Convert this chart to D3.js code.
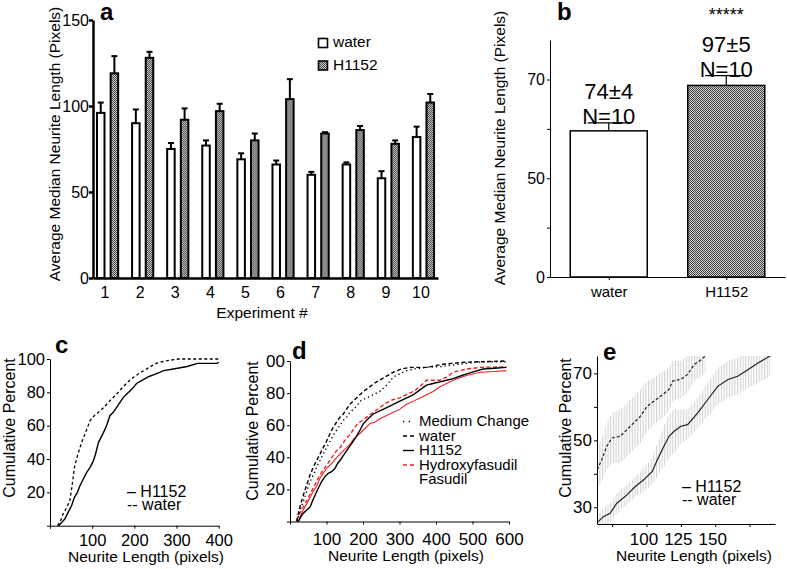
<!DOCTYPE html>
<html><head><meta charset="utf-8">
<script src="https://cdn.jsdelivr.net/npm/d3@7"></script>
<style>body{margin:0;background:#fff} svg{display:block}</style>
</head><body><svg id="fig" width="787" height="569"></svg>
<script>
const FONT = '"Liberation Sans", Arial, Helvetica, sans-serif';

// ---------------- DATA ----------------
// panel a
const experiments = ["1","2","3","4","5","6","7","8","9","10"];
const treatments = ["water","H1152"];
const waterMeans = [96, 90, 75, 77, 69, 66, 60, 66, 58, 82];
const waterErr   = [6, 8, 3.5, 3, 3.5, 2.3, 1.7, 1.2, 4.1, 6];
const h1152Means = [119, 128, 92, 97, 80, 104, 84, 86, 78, 102];
const h1152Err   = [10, 3.5, 6.6, 4.3, 4, 11.6, 0.8, 2.4, 2, 5];
const aTicks = [0, 50, 100, 150];

// panel b
const summaryGroups = ["water","H1152"];
const summaryMeans = [74, 97];
const summaryErr = [4, 5];
const summaryN = [10, 10];
const bTickValues = [0, 25, 50, 75, 100];
const bTickLabels = ["0", "", "50", "", "70"];
const bSignificance = "*****";

// panel c (cumulative %, neurite length)
const cTicksX = [0, 100, 200, 300, 400];
const cTicksY = [0, 20, 40, 60, 80, 100];
const cH1152 = [[20,0],[28,2],[35,4],[43,8],[51,12],[58,17],[65,20],[71,24],[79,28],[87,32],[95,35],[103,39],[108,43],[115,50],[121,53],[127,56],[134,60],[142,66],[150,68],[158,71],[166,74],[174,77],[182,79],[190,81],[198,83],[206,85.5],[220,87.5],[235,89.5],[245,90.5],[260,92],[269,93],[293,94],[325,95.5],[350,97.4],[396,97.4],[400,98]];
const cWater = [[18,0],[25,3],[31,7],[40,11],[47,15],[53,25],[58,35],[65,42],[75,50],[83,55],[95,63],[105,66],[115,68],[128,71],[142,75],[158,79],[174,83.5],[186,86.5],[198,89],[212,91.5],[229,94],[242,96],[253,97.5],[268,98.5],[285,99.3],[305,100],[400,100]];

// panel d
const dTicksX = [0, 100, 200, 300, 400, 500, 600];
const dTicksY = [0, 20, 40, 60, 80, 100];
const dTickLabelsY = ["", "20", "40", "60", "80", "00"];
const dMedium = [[20,0],[27,7],[36,12],[46,19],[55,25],[64,29],[73,34],[82,38],[91,42],[100,46],[110,50],[119,54],[128,57],[137,60],[146,63],[155,65],[164,68],[174,70],[183,72],[192,75],[210,77],[228,79],[246,81],[265,85],[283,90],[301,92],[319,94],[338,95],[356,95.5],[374,96],[411,96.5],[447,97.5],[465,98],[500,99],[530,99.5],[593,99.5]];
const dWater = [[18,0],[22,4],[27,9],[36,16],[46,23],[55,29],[64,34],[73,38],[82,42],[91,46],[100,50],[110,55],[119,59],[128,62],[137,65],[146,67],[155,70],[164,73],[173,75],[187,78],[201,81],[219,84],[237,87],[260,90],[283,93],[305,95],[328,96],[351,96],[374,96],[397,97],[420,98],[443,98.5],[465,99],[488,99.3],[511,99.5],[550,99.7],[593,100]];
const dH1152 = [[23,0],[30,3],[36,5],[45,7],[55,9],[62,13],[68,16],[78,21],[87,25],[96,28],[105,30],[114,31],[123,33],[130,36],[137,38],[146,41],[155,44],[164,47],[173,50],[182,53],[192,57],[201,61],[214,64],[228,67],[246,69],[265,71],[283,73],[301,75],[320,77],[338,79],[356,82],[374,85],[392,86],[411,87],[429,88],[447,89],[465,90.5],[484,92],[506,93.5],[529,95],[560,95.5],[593,96]];
const dHydroxy = [[18,0.6],[27,5],[36,9],[46,13],[55,17],[64,21],[73,25],[82,29],[91,32],[100,35],[109,38],[118,41],[127,44],[137,46],[146,49],[155,52],[164,54],[173,57],[182,60],[192,62],[210,65],[228,68],[246,71],[265,74],[283,76],[301,77],[319,79],[338,81],[356,84],[374,88],[392,88],[411,88],[429,90],[447,93],[465,94],[484,95],[502,95.5],[520,96],[593,96.4]];
const dFasudil = [[23,0],[30,4],[36,7],[46,11],[55,15],[64,19],[73,22],[82,27],[91,30],[100,33],[109,35],[118,37],[128,40],[137,42],[146,44],[155,46],[164,48],[173,51],[182,53],[192,55],[201,57],[210,59],[219,61],[233,62],[246,64],[265,66],[283,68],[301,70],[319,73],[338,75],[356,77],[374,79],[392,81],[411,84],[429,86],[447,88],[465,89.5],[484,91],[502,92],[520,93],[560,93.5],[593,94]];
const dLegendNames = ["Medium Change","water","H1152","Hydroxyfasudil","Fasudil"];

// panel e
const eTicksX = [75, 100, 125, 150, 175];
const eTickLabelsX = ["", "100", "125", "150", ""];
const eTicksY = [30, 40, 50, 60, 70];
const eTickLabelsY = ["30", "", "50", "", "70"];
const eWaterX   = [64.2, 67.4, 71.1, 74.8, 80.9, 85.8, 90.7, 95.6, 100.5, 105.4, 110.3, 116.4, 118.9, 125, 129.9, 134.8, 138.5, 142.9];
const eWaterY   = [41.2, 44.2, 48.2, 50.7, 51.2, 53.2, 55.2, 57.2, 60.2, 61.7, 63.2, 65.2, 67.7, 68.2, 69.7, 72.7, 73.7, 75.2];
const eWaterErr = [6, 6.5, 7, 7.5, 8, 8, 8, 8, 7.5, 7, 7, 6.5, 6, 5.5, 5.5, 5, 5, 5];
const eH1152X   = [64.2, 68.6, 73.5, 78.4, 85.8, 91.9, 98, 104.2, 107.9, 112.7, 116.4, 120.1, 125, 129.9, 137.3, 144.6, 152, 159.4, 166.7, 174, 181.4, 190];
const eH1152Y   = [25.4, 27.2, 28.2, 31.2, 33.7, 36.2, 38.2, 40.7, 44.2, 48.2, 51.2, 52.7, 54.2, 54.7, 58.2, 62.2, 66.2, 68.2, 69.2, 71.2, 73.2, 75.2];
const eH1152Err = [2, 2.5, 3, 3, 3, 3, 3.5, 4, 5, 6, 6.5, 6.5, 5, 4.5, 4.5, 5, 5.5, 5.5, 5.5, 5.5, 6, 6];

// ---------------- DRAW ----------------
const svg = d3.select("#fig");
const defs = svg.append("defs");
const pat = defs.append("pattern").attr("id","checker").attr("width",2).attr("height",2).attr("patternUnits","userSpaceOnUse");
pat.append("rect").attr("width",2).attr("height",2).attr("fill","#d2d2d2");
pat.append("rect").attr("width",1).attr("height",1).attr("fill","#404040");
pat.append("rect").attr("x",1).attr("y",1).attr("width",1).attr("height",1).attr("fill","#404040");
const vpat = defs.append("pattern").attr("id","vlines").attr("width",2.7).attr("height",10).attr("patternUnits","userSpaceOnUse");
vpat.append("line").attr("x1",0.6).attr("x2",0.6).attr("y1",0).attr("y2",10).attr("stroke","#cdcdcd").attr("stroke-width",1);

function styleAxis(g, fs, sw) {
  g.attr("font-family", FONT).attr("font-size", fs);
  g.selectAll("text").attr("fill","#000").attr("font-family", FONT).attr("font-size", fs);
  g.select(".domain").attr("stroke","#000").attr("stroke-width", sw);
  g.selectAll(".tick line").attr("stroke","#000").attr("stroke-width", sw);
}
function txt(x, y, s, fs, opts = {}) {
  const t = svg.append("text").attr("x", x).attr("y", y).text(s)
    .attr("font-family", FONT).attr("font-size", fs).attr("fill", opts.fill || "#000")
    .attr("text-anchor", opts.anchor || "start");
  if (opts.bold) t.attr("font-weight", "bold");
  if (opts.rotate) t.attr("transform", `rotate(-90,${x},${y})`).attr("text-anchor","middle");
  return t;
}

// ===== Panel a =====
const xA = d3.scaleBand().domain(experiments).range([93, 438]).paddingInner(0.34).paddingOuter(0.085);
const xAsub = d3.scaleBand().domain(treatments).range([1, xA.bandwidth() - 1]).paddingInner(0.45);
const yA = d3.scaleLinear().domain([0, 150]).range([278, 20]);
const rowsA = experiments.map((e, i) => ({
  exp: e,
  vals: [{t: "water", v: waterMeans[i], e: waterErr[i]}, {t: "H1152", v: h1152Means[i], e: h1152Err[i]}]
}));
const gA = svg.append("g");
const grp = gA.selectAll("g.grp").data(rowsA).join("g").attr("transform", d => `translate(${xA(d.exp)},0)`);
grp.selectAll("line.err").data(d => d.vals).join("line")
  .attr("x1", d => xAsub(d.t) + xAsub.bandwidth()/2).attr("x2", d => xAsub(d.t) + xAsub.bandwidth()/2)
  .attr("y1", d => yA(d.v)).attr("y2", d => yA(d.v + d.e)).attr("stroke","#000").attr("stroke-width",2);
grp.selectAll("line.cap").data(d => d.vals).join("line")
  .attr("x1", d => xAsub(d.t) + xAsub.bandwidth()/2 - 3).attr("x2", d => xAsub(d.t) + xAsub.bandwidth()/2 + 3)
  .attr("y1", d => yA(d.v + d.e)).attr("y2", d => yA(d.v + d.e)).attr("stroke","#000").attr("stroke-width",2);
grp.selectAll("rect").data(d => d.vals).join("rect")
  .attr("x", d => xAsub(d.t)).attr("width", xAsub.bandwidth())
  .attr("y", d => yA(d.v)).attr("height", d => yA(0) - yA(d.v))
  .attr("fill", d => d.t === "water" ? "#fff" : "url(#checker)")
  .attr("stroke","#000").attr("stroke-width",2);

const axA_y = svg.append("g").attr("transform","translate(93,0)")
  .call(d3.axisLeft(yA).tickValues(aTicks).tickSize(4).tickSizeOuter(0).tickPadding(0));
styleAxis(axA_y, 16, 2.5);
const axA_x = svg.append("g").attr("transform","translate(0,278)")
  .call(d3.axisBottom(xA).tickSize(0).tickSizeOuter(0).tickPadding(9));
styleAxis(axA_x, 16, 2.5);
axA_x.selectAll("text").attr("dx", -2.5);
txt(262, 318, "Experiment #", 15.5, {anchor: "middle"});
txt(60, 144, "Average Median Neurite Length (Pixels)", 15.5, {rotate: true});
txt(100, 20, "a", 24, {bold: true});
// legend a
const legA = svg.append("g");
treatments.forEach((t, i) => {
  legA.append("rect").attr("x", 318.5).attr("y", 38.5 + i*22.5).attr("width", 9).attr("height", 9)
    .attr("fill", t === "water" ? "#fff" : "url(#checker)").attr("stroke","#000").attr("stroke-width",1.6);
  txt(333, 47 + i*23, t, 15.5);
});

// ===== Panel b =====
const xB = d3.scalePoint().domain(summaryGroups).range([550, 785]).padding(0.5);
const yB = d3.scaleLinear().domain([0, 120]).range([277, 40]);
const rowsB = summaryGroups.map((g, i) => ({g, v: summaryMeans[i], e: summaryErr[i], n: summaryN[i]}));
const gB = svg.append("g");
gB.selectAll("line.err").data(rowsB).join("line")
  .attr("x1", d => xB(d.g)).attr("x2", d => xB(d.g)).attr("y1", d => yB(d.v)).attr("y2", d => yB(d.v + d.e))
  .attr("stroke","#000").attr("stroke-width",1.2);
gB.selectAll("line.cap").data(rowsB).join("line")
  .attr("x1", d => xB(d.g) - 21).attr("x2", d => xB(d.g) + 21).attr("y1", d => yB(d.v + d.e)).attr("y2", d => yB(d.v + d.e))
  .attr("stroke","#000").attr("stroke-width",1.2);
gB.selectAll("rect").data(rowsB).join("rect")
  .attr("x", d => xB(d.g) - 38.5).attr("width", 77)
  .attr("y", d => yB(d.v)).attr("height", d => yB(0) - yB(d.v))
  .attr("fill", d => d.g === "water" ? "#fff" : "url(#checker)").attr("stroke","#000").attr("stroke-width",1.5);
rowsB.forEach(d => {
  txt(xB(d.g), yB(d.v + d.e) + 1, "N=" + d.n, 22, {anchor: "middle"});
  txt(xB(d.g), yB(d.v + d.e) - 24, d.v + "\u00B1" + d.e, 22, {anchor: "middle"});
});
txt(xB("H1152"), 21, bSignificance, 18, {anchor: "middle"});
const axB_y = svg.append("g").attr("transform","translate(550,0)")
  .call(d3.axisLeft(yB).tickValues(bTickValues).tickFormat((d, i) => bTickLabels[i]).tickSize(3).tickSizeOuter(0).tickPadding(2));
styleAxis(axB_y, 16, 1);
const axB_x = svg.append("g").attr("transform","translate(0,277)")
  .call(d3.axisBottom(xB).tickSize(3).tickSizeOuter(0).tickPadding(6));
styleAxis(axB_x, 15, 1);
txt(505, 148, "Average Median Neurite Length (Pixels)", 15.5, {rotate: true});
txt(557, 20, "b", 24, {bold: true});

// ===== Panel c =====
const xC = d3.scaleLinear().domain([0, 400]).range([50, 218.7]);
const yC = d3.scaleLinear().domain([0, 100]).range([525.7, 359]);
const lineC = d3.line().x(d => xC(d[0])).y(d => yC(d[1]));
svg.append("path").attr("d", lineC(cWater)).attr("fill","none").attr("stroke","#000").attr("stroke-width",1.3).attr("stroke-dasharray","3,2.5");
svg.append("path").attr("d", lineC(cH1152)).attr("fill","none").attr("stroke","#000").attr("stroke-width",1.4);
const axC_y = svg.append("g").attr("transform","translate(50,0)")
  .call(d3.axisLeft(yC).tickValues(cTicksY).tickFormat(d => d === 0 ? "" : d).tickSize(3).tickSizeOuter(0).tickPadding(2));
styleAxis(axC_y, 16.5, 1);
const axC_x = svg.append("g").attr("transform","translate(0,525.7)")
  .call(d3.axisBottom(xC).tickValues(cTicksX).tickFormat(d => d === 0 ? "" : d).tickSize(3).tickSizeOuter(0).tickPadding(6));
styleAxis(axC_x, 16.5, 1);
txt(146, 562, "Neurite Length (pixels)", 15.5, {anchor: "middle"});
txt(15, 428, "Cumulative Percent", 16, {rotate: true});
txt(55, 353, "c", 24, {bold: true});
txt(127, 496.5, "\u2013 H1152", 16);
txt(127, 509.5, "-- water", 16);

// ===== Panel d =====
const xD = d3.scaleLinear().domain([0, 600]).range([290, 509]);
const yD = d3.scaleLinear().domain([0, 100]).range([521.5, 361]);
const lineD = d3.line().x(d => xD(d[0])).y(d => yD(d[1]));
const dSeries = [
  {name: dLegendNames[0], data: dMedium, color: "#000", dash: "1.3,3", w: 1.4, sample: true},
  {name: dLegendNames[1], data: dWater, color: "#000", dash: "4,2.5", w: 1.4, sample: true},
  {name: dLegendNames[2], data: dH1152, color: "#000", dash: null, w: 1.4, sample: true},
  {name: dLegendNames[3], data: dHydroxy, color: "#f02020", dash: "4,2.5", w: 1.4, sample: true},
  {name: dLegendNames[4], data: dFasudil, color: "#f02020", dash: null, w: 1.1, sample: false}
];
[4, 3, 0, 1, 2].forEach(i => {
  const s = dSeries[i];
  const p = svg.append("path").attr("d", lineD(s.data)).attr("fill","none").attr("stroke", s.color).attr("stroke-width", s.w);
  if (s.dash) p.attr("stroke-dasharray", s.dash);
});
const axD_y = svg.append("g").attr("transform","translate(290,0)")
  .call(d3.axisLeft(yD).tickValues(dTicksY).tickFormat((d, i) => dTickLabelsY[i]).tickSize(3).tickSizeOuter(0).tickPadding(2));
styleAxis(axD_y, 17, 1);
const axD_x = svg.append("g").attr("transform","translate(0,521.5)")
  .call(d3.axisBottom(xD).tickValues(dTicksX).tickFormat(d => d === 0 ? "" : d).tickSize(3).tickSizeOuter(0).tickPadding(8));
styleAxis(axD_x, 17, 1);
txt(406, 561, "Neurite Length (pixels)", 15.5, {anchor: "middle"});
txt(258, 431, "Cumulative Percent", 16, {rotate: true});
txt(292, 359, "d", 24, {bold: true});
dSeries.forEach((s, i) => {
  const by = 426 + i*14.5;
  if (s.sample) {
    const l = svg.append("line").attr("x1", 403).attr("x2", 414).attr("y1", by - 4.5).attr("y2", by - 4.5)
      .attr("stroke", s.color).attr("stroke-width", 1.4);
    if (s.dash) l.attr("stroke-dasharray", s.dash === "1.3,3" ? "1.3,4.5" : "4,3");
  }
  txt(419, by, s.name, 15);
});

// ===== Panel e =====
const xE = d3.scaleLinear().domain([64, 193.5]).range([597, 775]);
const yE = d3.scaleLinear().domain([25, 75.2]).range([524, 356]);
defs.append("clipPath").attr("id","clipE").append("rect").attr("x",597).attr("y",356).attr("width",178).attr("height",168);
const gE = svg.append("g").attr("clip-path","url(#clipE)");
const eSets = [
  {x: eWaterX, y: eWaterY, err: eWaterErr, dash: "3,2"},
  {x: eH1152X, y: eH1152Y, err: eH1152Err, dash: null}
];
eSets.forEach(s => {
  const pts = s.x.map((x, i) => ({x, y: s.y[i], e: s.err[i]}));
  const area = d3.area().x(d => xE(d.x)).y0(d => yE(d.y - d.e)).y1(d => yE(d.y + d.e));
  gE.append("path").attr("d", area(pts)).attr("fill","url(#vlines)");
});
eSets.forEach(s => {
  const pts = s.x.map((x, i) => ({x, y: s.y[i]}));
  const line = d3.line().x(d => xE(d.x)).y(d => yE(d.y));
  const p = gE.append("path").attr("d", line(pts)).attr("fill","none").attr("stroke","#222").attr("stroke-width",1.2);
  if (s.dash) p.attr("stroke-dasharray", s.dash);
});
const axE_y = svg.append("g").attr("transform","translate(597,0)")
  .call(d3.axisLeft(yE).tickValues(eTicksY).tickFormat((d, i) => eTickLabelsY[i]).tickSize(3).tickSizeOuter(0).tickPadding(2));
styleAxis(axE_y, 17, 1);
const axE_x = svg.append("g").attr("transform","translate(0,524)")
  .call(d3.axisBottom(xE).tickValues(eTicksX).tickFormat((d, i) => eTickLabelsX[i]).tickSize(3).tickSizeOuter(0).tickPadding(6));
styleAxis(axE_x, 17, 1);
axE_x.selectAll("text").attr("dx", -3);
txt(694, 561, "Neurite Length (pixels)", 15.5, {anchor: "middle"});
txt(571, 428, "Cumulative Percent", 16, {rotate: true});
txt(603, 360, "e", 24, {bold: true});
txt(682, 491.5, "\u2013 H1152", 16);
txt(682, 505, "-- water", 16);
</script></body></html>
